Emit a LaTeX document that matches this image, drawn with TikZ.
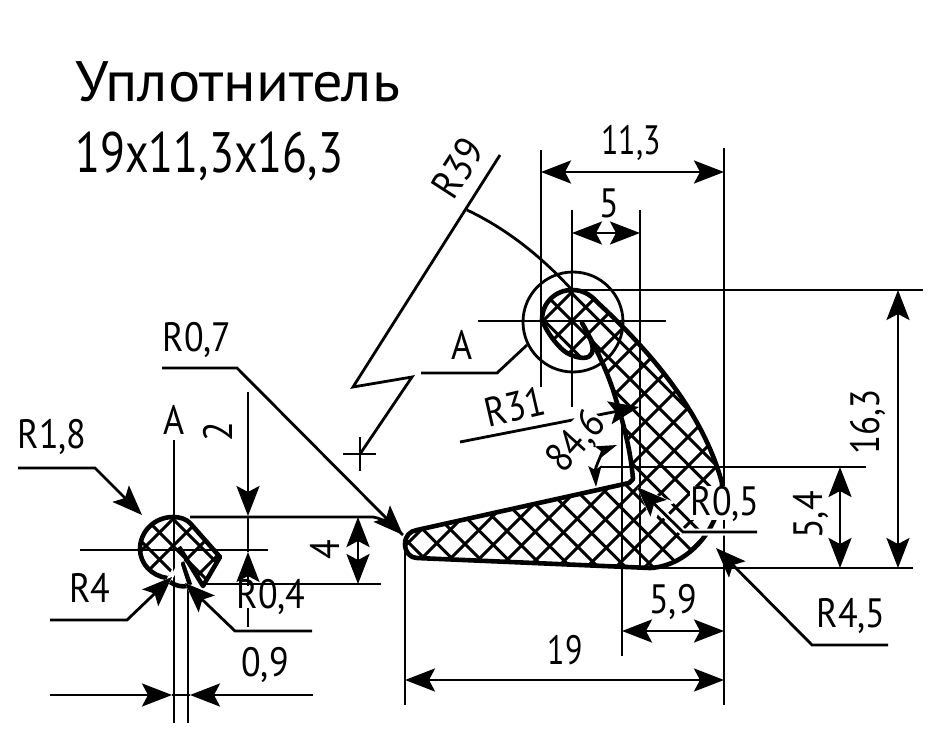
\documentclass[tikz,border=0pt]{standalone}
\usepackage{fontspec}
\setmainfont{PT Sans}
\usetikzlibrary{arrows.meta}
\newcommand\dm[2][.88]{\scalebox{#1}[1]{#2}}
\tikzset{
  x=1pt,y=-1pt,
  thin line/.style={line width=2.8pt,line cap=butt},
  body/.style={line width=4.6pt,line join=round},
  hatchline/.style={line width=3pt},
  halo/.style={line width=3pt,white},
  tip/.tip={Stealth[length=30pt,width=23pt,inset=6pt]},
  smalltip/.tip={Stealth[length=21pt,width=13pt,inset=4pt]},
  whitetip/.tip={Stealth[length=38pt,width=31pt,inset=6pt]},
  dimt/.style={inner sep=0pt,font=\fontsize{41}{46}\selectfont},
  titlet/.style={inner sep=0pt,anchor=base west,font=\fontsize{57}{62}\selectfont},
  maskt/.style={dimt,fill=white},
}
\def\mainbody{(542,320) .. controls (542,303) and (555,290) .. (572,290)
  .. controls (582,290) and (590,294) .. (597,302)
  .. controls (660,360) and (705,420) .. (722,483)
  .. controls (723,525) and (690,566) .. (650,568)
  -- (417,558) .. controls (410,558) and (405,552) .. (405,544)
  .. controls (405,536) and (410,531) .. (417,530)
  -- (629,483) -- (633,479)
  .. controls (631,455) and (626,435) .. (622,420)
  -- (617,403) .. controls (610,378) and (600,355) .. (582,323)
  .. controls (592,340) and (594,348) .. (592,353)
  .. controls (590,359) and (580,360) .. (567,353)
  .. controls (560,349) and (548,335) .. (542,320) -- cycle}
\def\smallbody{(140,549) .. controls (140,531) and (155,517) .. (173,517)
  .. controls (180,517) and (186,519) .. (190,523)
  -- (220,557) -- (203,586) -- (180,555) -- (167,578)
  .. controls (152,576) and (140,564) .. (140,549) -- cycle}
\begin{document}
\begin{tikzpicture}
\useasboundingbox (0,0) rectangle (946,733);
\fill[white] (0,0) rectangle (946,733);
% hatching
\begin{scope}
\clip \mainbody;
\foreach \k in {-20,...,20}{
  \draw[hatchline] ({893+29*\k},0) -- ({893+29*\k-733},733);
  \draw[hatchline] ({251+27.5*\k},0) -- ({251+27.5*\k+733},733);
}
\end{scope}
\begin{scope}
\clip \smallbody;
\foreach \k in {-4,...,4}{
  \draw[hatchline] ({719+27*\k},0) -- ({719+27*\k-733},733);
  \draw[hatchline] ({-373+27*\k},0) -- ({-373+27*\k+733},733);
}
\end{scope}
% extension and centre lines
\draw[thin line] (541,150) -- (541,387);
\draw[thin line] (724,148) -- (724,705);
\draw[thin line] (640,210) -- (640,570);
\draw[thin line] (572,210) -- (572,407);
\draw[thin line] (622,420) -- (622,656);
\draw[thin line] (478,321) -- (666,321);
\draw[thin line] (572,290) -- (923,290);
\draw[thin line] (600,467) -- (866,467);
\draw[thin line] (650,568) -- (913,568);
\draw[thin line] (405,544) -- (405,705);
% main dimensions
\draw[thin line,{tip}-{tip}] (541,172) -- (724,172);
\draw[thin line,{tip}-{tip}] (572,233) -- (640,233);
\draw[thin line,{tip}-{tip}] (898,290) -- (898,568);
\draw[thin line,{tip}-{tip}] (840,467) -- (840,568);
\draw[thin line,{tip}-{tip}] (622,631) -- (724,631);
\draw[thin line,{tip}-{tip}] (405,680) -- (724,680);
% R39 break line
\draw[thin line,line join=miter] (500,155) -- (353,387) -- (412,377) -- (360,454);
\draw[thin line] (343,454) -- (376,454);
\draw[thin line] (360,437) -- (360,471);
\draw[thin line] (467,210) .. controls (505,228) and (540,255) .. (572,290);
% detail circle
\draw[thin line] (573,322) circle[radius=50];
\draw[thin line] (527,345) -- (497,373) -- (421,373);
% body outline
\draw[body] \mainbody;
% small section lines
\draw[thin line] (174,440) -- (174,723);
\draw[thin line] (188,585) -- (188,723);
\draw[thin line] (80,550) -- (268,550);
\draw[thin line] (190,517) -- (373,517) .. controls (385,519) and (395,527) .. (403,535);
\draw[thin line] (200,584) -- (381,584);
\draw[thin line,-{tip}] (248,392) -- (248,516);
\draw[thin line] (248,516) -- (248,552);
\draw[thin line,-{tip}] (248,627) -- (248,552);
\draw[thin line,{tip}-{tip}] (358,517) -- (358,584);
\draw[thin line,-{tip}] (50,695) -- (172,695);
\draw[thin line,-{tip}] (313,695) -- (190,695);
\draw[thin line] (172,695) -- (190,695);
% small body outline
\draw[body] (167,578) .. controls (152,576) and (140,564) .. (140,549)
  .. controls (140,531) and (155,517) .. (173,517)
  .. controls (180,517) and (186,519) .. (190,523)
  -- (220,557) -- (203,586) -- (179,547);
\draw[body] (182,562) -- (190,585);
\draw[body] (170,582) .. controls (176,586) and (182,587) .. (187,586);
% leaders
\draw[thin line,-{tip}] (162,368) -- (237,368) -- (403,535);
\draw[thin line,-{tip}] (18,468) -- (95,468) -- (142,515);
\draw[white,line width=3pt,-{whitetip}] (127,620) -- (172,577);
\draw[halo] (172,577) -- (182,558);
\draw[thin line,-{tip}] (50,620) -- (127,620) -- (172,577);
\draw[white,line width=3pt,-{whitetip}] (235,631) -- (185,583);
\draw[halo] (185,583) -- (178,560);
\draw[thin line,-{tip}] (312,631) -- (235,631) -- (185,583);
\draw[thin line,-{tip}] (888,645) -- (812,645) -- (716,548);
% R31 leader
\draw[thin line,-{tip}] (460,442) -- (639,407);
% R0,5 leader
\draw[line width=7pt,white] (757,532) -- (683,532) -- (650,500);
\draw[white,line width=3pt,-{whitetip}] (683,532) -- (637,487);
\draw[thin line,-{tip}] (757,532) -- (683,532) -- (637,487);
% text masks
\fill[white] (690,486) rectangle (760,520);
\fill[white] (236,586) rectangle (306,608);
% texts
\node[titlet] (title1) at (75,102) {\scalebox{1.06}[1]{Уплотнитель}};
\node[titlet] (title2) at (75,173) {\scalebox{.805}[1]{19x11,3x16,3}};
\node[dimt] (d113) at (631,143) {\dm[.78]{11,3}};
\node[dimt] (d5) at (609,203) {\dm{5}};
\node[dimt,rotate=90] (d163) at (868,422) {\dm[.85]{16,3}};
\node[dimt,rotate=90] (d54) at (811,515) {\dm{5,4}};
\node[dimt] (d59) at (673,602) {\dm{5,9}};
\node[dimt] (d19) at (565,650) {\dm[.78]{19}};
\node[dimt,rotate=57] (r39) at (458,168) {\dm{R39}};
\node[dimt] (labA) at (462,345) {\dm{A}};
\node[dimt,rotate=13] (r31) at (515,407) {\dm{R31}};
\node[maskt,rotate=48] (a846) at (577,442) {\dm{84,6}};
\node[dimt] (r05) at (725,504) {\dm{R0,5}};
\node[dimt] (r45) at (851,616) {\dm{R4,5}};
\node[dimt] (r07) at (197,340) {\dm{R0,7}};
\node[dimt] (r18) at (52,437) {\dm{R1,8}};
\node[dimt] (labA2) at (174,420) {\dm{A}};
\node[dimt,rotate=90] (d2) at (218,432) {\dm{2}};
\node[dimt,rotate=90] (d4) at (325,550) {\dm{4}};
\node[dimt] (r4) at (90,588) {\dm{R4}};
\node[dimt] (r04) at (271,597) {\dm{R0,4}};
\node[dimt] (d09) at (265,665) {\dm{0,9}};
% 84,6 angle
\draw[thin line,{smalltip}-{smalltip}] (617,445) .. controls (604,450) and (595,467) .. (596,487);
\end{tikzpicture}
\end{document}
